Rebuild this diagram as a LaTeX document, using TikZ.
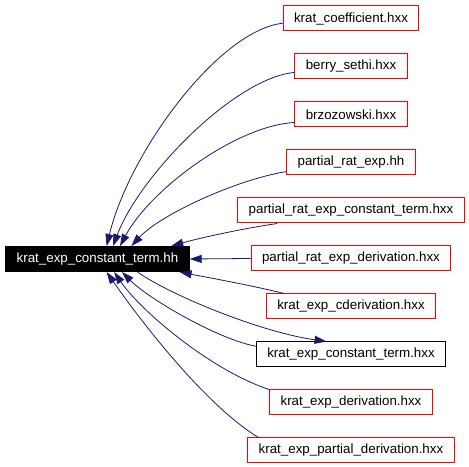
\documentclass[tikz,border=0pt]{standalone}
\usepackage{fontspec}
\setmainfont{Liberation Sans}
\usetikzlibrary{arrows.meta}
\definecolor{incblue}{HTML}{191970}
\tikzset{
  hdr/.style={draw=#1,line width=0.75pt,inner xsep=8.2pt,inner ysep=0pt,minimum height=18.75pt,font=\fontsize{10}{12}\selectfont},
  incl/.style={incblue,line width=0.6pt,-{Triangle[length=9pt,width=6pt]}}
}
\begin{document}
\begin{tikzpicture}[x=0.75pt,y=-0.75pt]
\useasboundingbox (0,0) rectangle (469,467);
\node[hdr=black,fill=black,text=white] (main) at (97.5,259) {krat\_exp\_constant\_term.hh};
\foreach \n/\t/\c [count=\i from 0] in {coef/krat\_coefficient.hxx/red,berry/berry\_sethi.hxx/red,brzo/brzozowski.hxx/red,prehh/partial\_rat\_exp.hh/red,prect/partial\_rat\_exp\_constant\_term.hxx/red,pred/partial\_rat\_exp\_derivation.hxx/red,cder/krat\_exp\_cderivation.hxx/red,ct/krat\_exp\_constant\_term.hxx/black,der/krat\_exp\_derivation.hxx/red,pder/krat\_exp\_partial\_derivation.hxx/red}
  \node[hdr=\c] (\n) at (351,{18.5+48*\i}) {\t};
\draw[incl] (coef.184) .. controls (220,30) and (130,150) .. (main.55);
\draw[incl] (berry.186) .. controls (235,78) and (140,175) .. (main.40);
\draw[incl] (brzo.188) .. controls (235,126) and (150,190) .. (main.30);
\draw[incl] (prehh.188) .. controls (235,180) and (160,215) .. (main.21);
\draw[incl] (prect.190) .. controls (240,229) and (200,238) .. (main.10);
\draw[incl] (pred.west) -- (main.east);
\draw[incl] (cder.169) .. controls (250,285) and (200,276) .. (main.-9);
\draw[incl] (main.-18) .. controls (170,295) and (260,332) .. (ct.152);
\draw[incl] (ct.175) .. controls (220,340) and (150,300) .. (main.-28);
\draw[incl] (der.north west) .. controls (210,370) and (140,310) .. (main.-38);
\draw[incl] (pder.172) .. controls (205,405) and (140,320) .. (main.-55);
\end{tikzpicture}
\end{document}
